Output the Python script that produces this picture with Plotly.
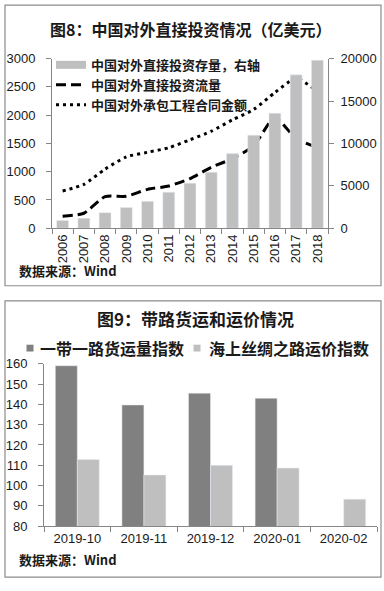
import plotly.graph_objects as go

# ---------- data: chart 8 ----------
years = ["2006", "2007", "2008", "2009", "2010", "2011", "2012",
         "2013", "2014", "2015", "2016", "2017", "2018"]
odi_stock = [906, 1179, 1840, 2458, 3172, 4248, 5319, 6605, 8826, 10979, 13574, 18090, 19823]
odi_flow = [212, 265, 559, 565, 688, 747, 878, 1078, 1231, 1457, 1961, 1583, 1430]
contracts = [660, 776, 1046, 1262, 1344, 1423, 1565, 1716, 1918, 2101, 2400, 2653, 2418]

# ---------- data: chart 9 ----------
months = ["2019-10", "2019-11", "2019-12", "2020-01", "2020-02"]
freight_volume = [159.0, 139.7, 145.5, 143.0, None]
freight_price = [112.8, 105.2, 110.0, 108.6, 93.3]
series9 = ["一带一路货运量指数", "海上丝绸之路运价指数"]

W, H = 384, 591
def px(x): return x / W
def py(y): return 1 - y / H

CJK = "Noto Sans CJK SC"
NUM = "Liberation Sans"
AX = "#868686"
TXT = "#1a1a1a"
DARK, LIGHT = "#808080", "#bfbfbf"

fig = go.Figure()

# chart 8 traces
fig.add_trace(go.Bar(x=years, y=odi_stock, xaxis="x", yaxis="y2",
                     marker_color=LIGHT, width=0.56, offset=-0.28,
                     showlegend=False, name="中国对外直接投资存量，右轴"))
fig.add_trace(go.Scatter(x=[None], y=[None], xaxis="x", yaxis="y", mode="lines",
                         line=dict(color=LIGHT, width=8),
                         name="中国对外直接投资存量，右轴", legend="legend"))
fig.add_trace(go.Scatter(x=years, y=odi_flow, xaxis="x", yaxis="y", mode="lines",
                         line=dict(color="black", width=3, dash="10px,5px", shape="spline", smoothing=0.6),
                         name="中国对外直接投资流量", legend="legend"))
fig.add_trace(go.Scatter(x=years, y=contracts, xaxis="x", yaxis="y", mode="lines",
                         line=dict(color="black", width=3, dash="3px,4px", shape="spline", smoothing=0.6),
                         name="中国对外承包工程合同金额", legend="legend"))

# chart 9 traces
fig.add_trace(go.Bar(x=months, y=freight_volume, xaxis="x3", yaxis="y3",
                     marker_color=DARK, showlegend=False, name=series9[0]))
fig.add_trace(go.Bar(x=months, y=freight_price, xaxis="x3", yaxis="y3",
                     marker_color=LIGHT, showlegend=False, name=series9[1]))

axis_common = dict(showline=True, linecolor=AX, linewidth=1, ticks="outside",
                   ticklen=5, tickcolor=AX, showgrid=False, zeroline=False,
                   tickfont=dict(family=NUM, size=13, color=TXT))

fig.update_layout(
    width=W, height=H, margin=dict(l=0, r=0, t=0, b=0),
    paper_bgcolor="white", plot_bgcolor="white",
    barmode="group", bargap=0.34, bargroupgap=0,
    hovermode=False,
    xaxis=dict(domain=[px(52), px(328)], anchor="y", type="category",
               tickangle=-90, tickson="boundaries", **axis_common),
    yaxis=dict(domain=[py(227), py(53)], anchor="x", range=[0, 3000], dtick=500,
               ticklabelstandoff=8, **axis_common),
    yaxis2=dict(overlaying="y", side="right", anchor="x", range=[0, 20000], dtick=5000,
                tickformat="d", ticklabelstandoff=4, **axis_common),
    xaxis3=dict(domain=[px(44), px(377)], anchor="y3", type="category",
                tickson="boundaries", **axis_common),
    yaxis3=dict(domain=[py(532.7), py(366)], anchor="x3", range=[80, 160], dtick=10,
                ticklabelstandoff=8, **axis_common),
    legend=dict(x=px(51), y=py(44), xanchor="left", yanchor="top",
                bgcolor="rgba(0,0,0,0)", tracegroupgap=0,
                font=dict(family=CJK, size=13, color=TXT, weight="bold")),
    showlegend=True,
)

# frames
fig.add_shape(type="rect", xref="paper", yref="paper", x0=px(5), x1=px(381),
              y0=py(286), y1=py(-2), line=dict(color="#8c8c8c", width=1.2), layer="below")
fig.add_shape(type="rect", xref="paper", yref="paper", x0=px(5), x1=px(381),
              y0=py(585), y1=py(301.5), line=dict(color="#8c8c8c", width=1.2), layer="below")

# chart 9 legend (swatch + label)
for (sx, tx), name, col in zip([(30, 38), (197, 207)], series9, [DARK, LIGHT]):
    fig.add_shape(type="rect", xref="paper", yref="paper", x0=px(sx - 3.5), x1=px(sx + 3.5),
                  y0=py(353.5), y1=py(346.5), line=dict(width=0), fillcolor=col)
    fig.add_annotation(text=name, xref="paper", yref="paper", x=px(tx), y=py(350),
                       showarrow=False, xanchor="left", yanchor="middle",
                       font=dict(family=CJK, size=16, color=TXT, weight="bold"))

# titles and source notes
fig.add_annotation(text="图8：中国对外直接投资情况（亿美元）", xref="paper", yref="paper",
                   x=px(190), y=py(23), showarrow=False, xanchor="center", yanchor="middle",
                   font=dict(family=CJK, size=16, color=TXT, weight="bold"))
fig.add_annotation(text="图9：带路货运和运价情况", xref="paper", yref="paper",
                   x=px(195), y=py(320), showarrow=False, xanchor="center", yanchor="middle",
                   font=dict(family=CJK, size=17, color=TXT, weight="bold"))
for yy in (270, 567):
    fig.add_annotation(text="数据来源：Wind", xref="paper", yref="paper",
                       x=px(17), y=py(yy), showarrow=False, xanchor="left", yanchor="middle",
                       font=dict(family=CJK, size=13, color=TXT, weight="bold"))

fig.write_html("out.html", config={"displayModeBar": False, "staticPlot": True},
               post_script="document.body.style.margin='0';document.body.style.overflow='hidden';")
